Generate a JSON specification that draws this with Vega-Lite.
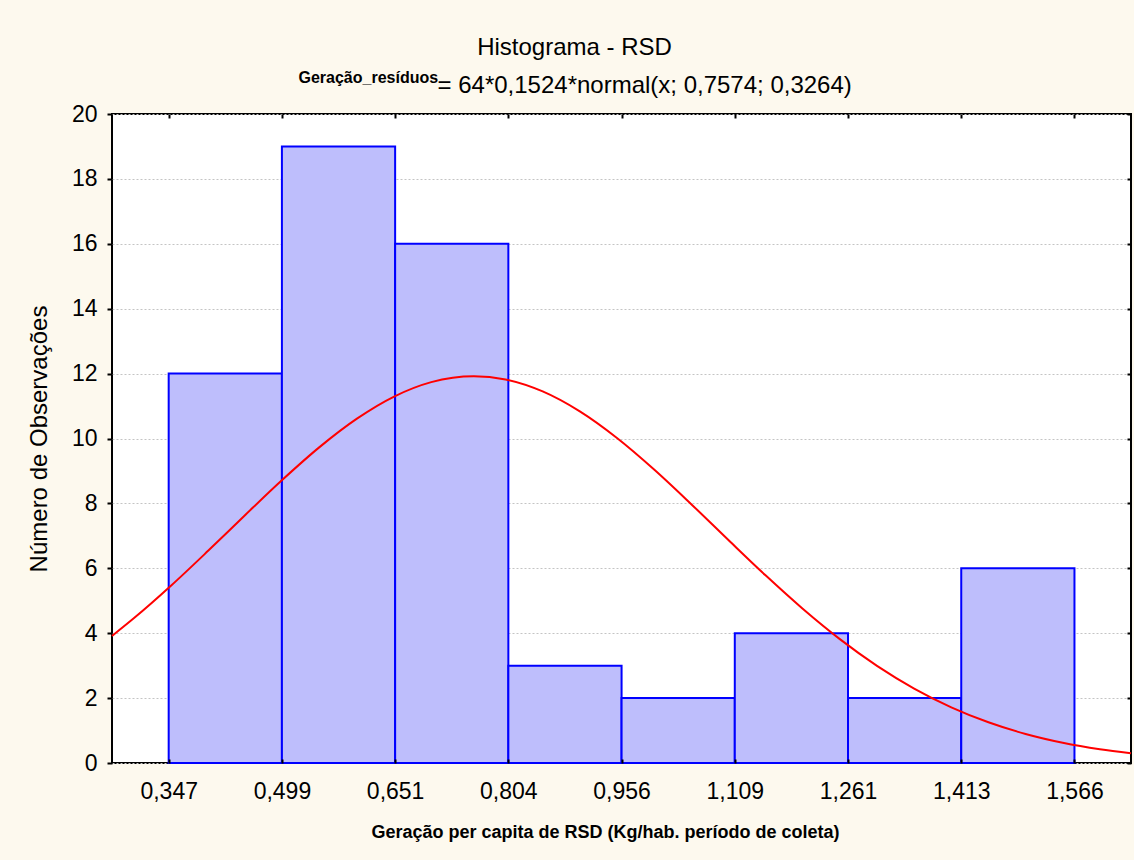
{
  "$schema": "https://vega.github.io/schema/vega-lite/v6.json",
  "width": 1019,
  "height": 649,
  "autosize": {"type": "none"},
  "padding": {"left": 112, "top": 114, "right": 3, "bottom": 97},
  "background": "#fdf9ee",
  "title": {
    "text": "Histograma - RSD",
    "font": "Liberation Sans",
    "fontSize": 24,
    "fontWeight": "normal",
    "color": "black",
    "anchor": "middle",
    "frame": "group",
    "dx": -47,
    "offset": 14,
    "dy": 24,
    "baseline": "alphabetic"
  },
  "datasets": {
    "bins": [
      {"bin_start": 0.3466, "bin_end": 0.499, "count": 12},
      {"bin_start": 0.499, "bin_end": 0.6514, "count": 19},
      {"bin_start": 0.6514, "bin_end": 0.8038, "count": 16},
      {"bin_start": 0.8038, "bin_end": 0.9562, "count": 3},
      {"bin_start": 0.9562, "bin_end": 1.1086, "count": 2},
      {"bin_start": 1.1086, "bin_end": 1.261, "count": 4},
      {"bin_start": 1.261, "bin_end": 1.4134, "count": 2},
      {"bin_start": 1.4134, "bin_end": 1.5658, "count": 6}
    ],
    "curve": [
      {"x": 0.2703, "y": 3.915},
      {"x": 0.30, "y": 4.466},
      {"x": 0.35, "y": 5.470},
      {"x": 0.40, "y": 6.546},
      {"x": 0.45, "y": 7.651},
      {"x": 0.50, "y": 8.735},
      {"x": 0.55, "y": 9.742},
      {"x": 0.60, "y": 10.612},
      {"x": 0.65, "y": 11.293},
      {"x": 0.70, "y": 11.738},
      {"x": 0.7574, "y": 11.921},
      {"x": 0.80, "y": 11.820},
      {"x": 0.85, "y": 11.451},
      {"x": 0.90, "y": 10.836},
      {"x": 0.95, "y": 10.016},
      {"x": 1.00, "y": 9.044},
      {"x": 1.05, "y": 7.976},
      {"x": 1.10, "y": 6.872},
      {"x": 1.15, "y": 5.783},
      {"x": 1.20, "y": 4.754},
      {"x": 1.25, "y": 3.817},
      {"x": 1.30, "y": 2.994},
      {"x": 1.35, "y": 2.294},
      {"x": 1.40, "y": 1.716},
      {"x": 1.45, "y": 1.255},
      {"x": 1.50, "y": 0.896},
      {"x": 1.55, "y": 0.625},
      {"x": 1.60, "y": 0.426},
      {"x": 1.6419, "y": 0.303}
    ]
  },
  "layer": [
    {
      "data": {"name": "bins"},
      "mark": {"type": "rect", "fill": "#bebefc", "stroke": "#0000ff", "strokeWidth": 2, "opacity": 1},
      "encoding": {
        "x": {
          "field": "bin_start",
          "type": "quantitative",
          "scale": {"domain": [0.2703, 1.6419], "nice": false, "zero": false},
          "axis": {
            "orient": "bottom",
            "values": [0.3466, 0.499, 0.6514, 0.8038, 0.9562, 1.1086, 1.261, 1.4134, 1.5658],
            "labelExpr": "replace(format(datum.value, '.3f'), '.', ',')",
            "grid": false,
            "domain": false,
            "ticks": true,
            "tickSize": -4,
            "tickWidth": 2,
            "tickColor": "black",
            "labelFontSize": 23,
            "labelColor": "black",
            "labelPadding": 21,
            "labelFlush": false,
            "labelOverlap": false,
            "title": "Geração per capita de RSD (Kg/hab. período de coleta)",
            "titleFontSize": 18,
            "titleFontWeight": "bold",
            "titleColor": "black",
            "titleX": 493,
            "titleY": 74,
            "titleAlign": "center",
            "titleBaseline": "alphabetic",
            "zindex": 1
          }
        },
        "x2": {"field": "bin_end"},
        "y": {
          "field": "count",
          "type": "quantitative",
          "scale": {"domain": [0, 20], "nice": false},
          "axis": {
            "orient": "left",
            "values": [0, 2, 4, 6, 8, 10, 12, 14, 16, 18, 20],
            "grid": true,
            "gridColor": "#c4c4c4",
            "gridDash": [2, 2],
            "gridWidth": 1,
            "domain": false,
            "tickSize": 5,
            "tickWidth": 2,
            "tickColor": "black",
            "labelFontSize": 23,
            "labelColor": "black",
            "labelPadding": 10,
            "labelFlush": false,
            "labelOverlap": false,
            "title": "Número de Observações",
            "titleFontSize": 24,
            "titleFontWeight": "normal",
            "titleColor": "black",
            "titleAngle": -90,
            "titleX": -66,
            "titleY": 324.5,
            "titleAlign": "center",
            "titleBaseline": "alphabetic"
          }
        },
        "y2": {"datum": 0}
      }
    },
    {
      "data": {"name": "curve"},
      "mark": {"type": "line", "color": "#ff0000", "strokeWidth": 2, "interpolate": "monotone"},
      "encoding": {
        "x": {
          "field": "x",
          "type": "quantitative",
          "scale": {"domain": [0.2703, 1.6419], "nice": false, "zero": false},
          "axis": {
            "orient": "top",
            "values": [0.3466, 0.499, 0.6514, 0.8038, 0.9562, 1.1086, 1.261, 1.4134, 1.5658],
            "labels": false,
            "grid": false,
            "domain": false,
            "tickSize": -4,
            "tickWidth": 2,
            "tickColor": "black",
            "title": "= 64*0,1524*normal(x; 0,7574; 0,3264)",
            "titleFontSize": 24,
            "titleFontWeight": "normal",
            "titleColor": "black",
            "titleX": 325,
            "titleY": -22,
            "titleAlign": "left",
            "titleBaseline": "alphabetic",
            "zindex": 1
          }
        },
        "y": {
          "field": "y",
          "type": "quantitative",
          "scale": {"domain": [0, 20], "nice": false},
          "axis": {
            "orient": "right",
            "values": [0, 2, 4, 6, 8, 10, 12, 14, 16, 18, 20],
            "labels": false,
            "grid": false,
            "domain": false,
            "tickSize": -4,
            "tickWidth": 2,
            "tickColor": "black",
            "title": "Geração_resíduos",
            "titleFontSize": 16,
            "titleFontWeight": "bold",
            "titleColor": "black",
            "titleAngle": 0,
            "titleX": -833,
            "titleY": -32,
            "titleAlign": "left",
            "titleBaseline": "alphabetic",
            "zindex": 1
          }
        }
      }
    }
  ],
  "resolve": {"axis": {"x": "independent", "y": "independent"}},
  "config": {
    "font": "Liberation Sans",
    "view": {"fill": "white", "stroke": "black", "strokeWidth": 2}
  }
}
